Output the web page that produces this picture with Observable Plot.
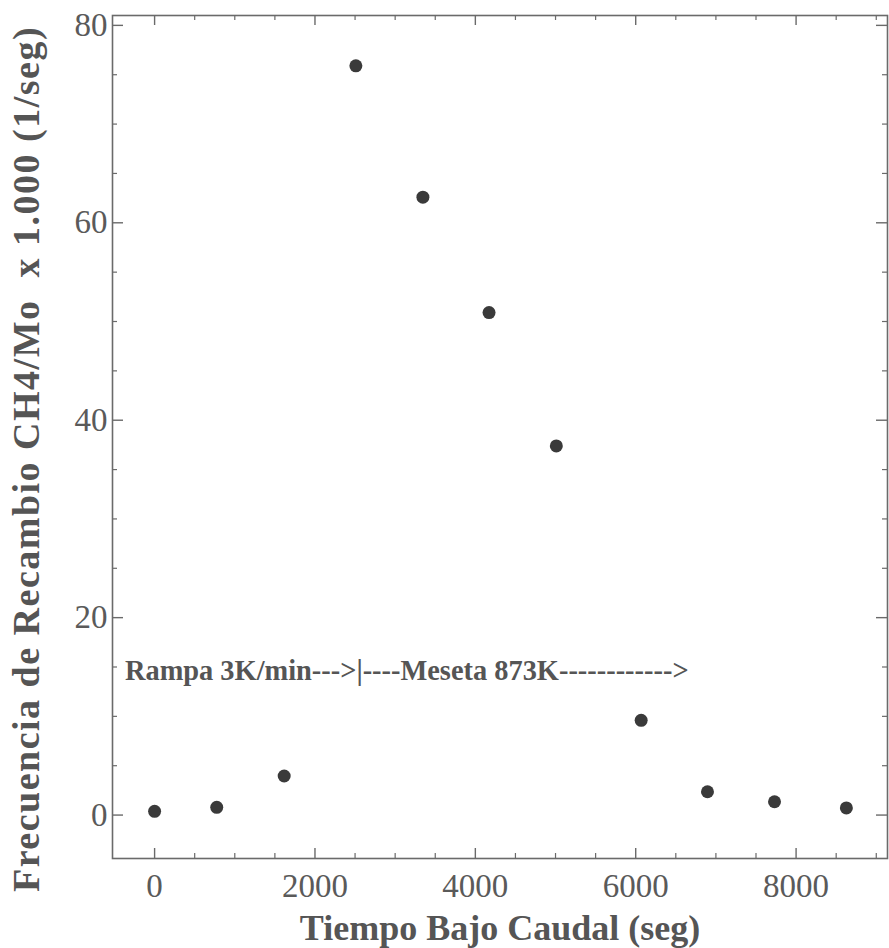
<!DOCTYPE html>
<html>
<head>
<meta charset="utf-8">
<script src="https://cdn.jsdelivr.net/npm/d3@7"></script>
<script src="https://cdn.jsdelivr.net/npm/@observablehq/plot@0.6"></script>
<style>
  html, body { margin: 0; padding: 0; background: #fff; }
</style>
</head>
<body>
<div id="chart"></div>
<script>
// Data
const tiempo = [0, 775, 1616, 2510, 3346, 4171, 5010, 6068, 6895, 7731, 8627];
const frecuencia = [0.38, 0.78, 3.96, 75.9, 62.6, 50.9, 37.4, 9.6, 2.36, 1.35, 0.72];

const xTicks = [0, 2000, 4000, 6000, 8000];
const xMinorTicks = [500, 1000, 1500, 2500, 3000, 3500, 4500, 5000, 5500, 6500, 7000, 7500, 8500, 9000];
const yTicks = [0, 20, 40, 60, 80];
const yMinorTicks = [5, 10, 15, 25, 30, 35, 45, 50, 55, 65, 70, 75];

const xLabel = ["Tiempo Bajo Caudal (seg)"];
const yLabel = ["Frecuencia de Recambio CH4/Mo\u00a0 x 1.000 (1/seg)"];
const annotation = [{x: -370, y: 14.6, text: "Rampa 3K/min--->|----Meseta 873K------------>"}];

const points = tiempo.map((t, i) => ({t, f: frecuencia[i]}));

const W = 889, H = 948;
const mL = 112, mR = 2, mT = 15, mB = 90;
const frameH = H - mT - mB;
const frameW = W - mL - mR;
const font = "'Liberation Serif', 'Times New Roman', Times, serif";
const axisColor = "#6a6a6a";

const chart = Plot.plot({
  width: W,
  height: H,
  marginLeft: mL,
  marginRight: mR,
  marginTop: mT,
  marginBottom: mB,
  style: {fontFamily: font, background: "#fff"},
  x: {domain: [-525, 9140]},
  y: {domain: [-4.4, 81.0]},
  marks: [
    Plot.frame({stroke: axisColor, strokeWidth: 1.6}),
    // major ticks, bottom & top (inward)
    Plot.tickX(xTicks, {x: d => d, stroke: axisColor, strokeWidth: 1.4, insetTop: frameH - 10}),
    Plot.tickX(xTicks, {x: d => d, stroke: axisColor, strokeWidth: 1.4, insetBottom: frameH - 10}),
    Plot.tickX(xMinorTicks, {x: d => d, stroke: axisColor, strokeWidth: 1.2, insetTop: frameH - 5}),
    Plot.tickX(xMinorTicks, {x: d => d, stroke: axisColor, strokeWidth: 1.2, insetBottom: frameH - 5}),
    // y ticks, left & right (inward)
    Plot.tickY(yTicks, {y: d => d, stroke: axisColor, strokeWidth: 1.4, insetRight: frameW - 11}),
    Plot.tickY(yTicks, {y: d => d, stroke: axisColor, strokeWidth: 1.4, insetLeft: frameW - 11}),
    Plot.tickY(yMinorTicks, {y: d => d, stroke: axisColor, strokeWidth: 1.2, insetRight: frameW - 5}),
    Plot.tickY(yMinorTicks, {y: d => d, stroke: axisColor, strokeWidth: 1.2, insetLeft: frameW - 5}),
    Plot.axisX({ticks: xTicks, tickSize: 0, tickPadding: 15, fontSize: 33, fill: "#5a5a5a", label: null, tickFormat: d => String(d)}),
    Plot.axisY({ticks: yTicks, tickSize: 0, tickPadding: 5, fontSize: 33, fill: "#5a5a5a", label: null, tickFormat: d => String(d)}),
    Plot.text(xLabel, {frameAnchor: "bottom", text: d => d, textAnchor: "middle", lineAnchor: "top", dy: 56, fontSize: 36, fontWeight: "bold", fill: "#555"}),
    Plot.text(yLabel, {frameAnchor: "left", text: d => d, textAnchor: "middle", lineAnchor: "middle", rotate: -90, dx: -86, dy: 22, fontSize: 38, fontWeight: "bold", fill: "#555"}),
    Plot.text(annotation, {x: "x", y: "y", text: "text", textAnchor: "start", fontSize: 28.4, fontWeight: "bold", fill: "#555"}),
    Plot.dot(points, {x: "t", y: "f", r: 6.5, fill: "#3a3a3a", stroke: "none"})
  ]
});
d3.select(chart).selectAll("text")
  .filter(function() { return this.textContent === yLabel[0]; })
  .attr("letter-spacing", 1.5);
document.getElementById("chart").appendChild(chart);
</script>
</body>
</html>
